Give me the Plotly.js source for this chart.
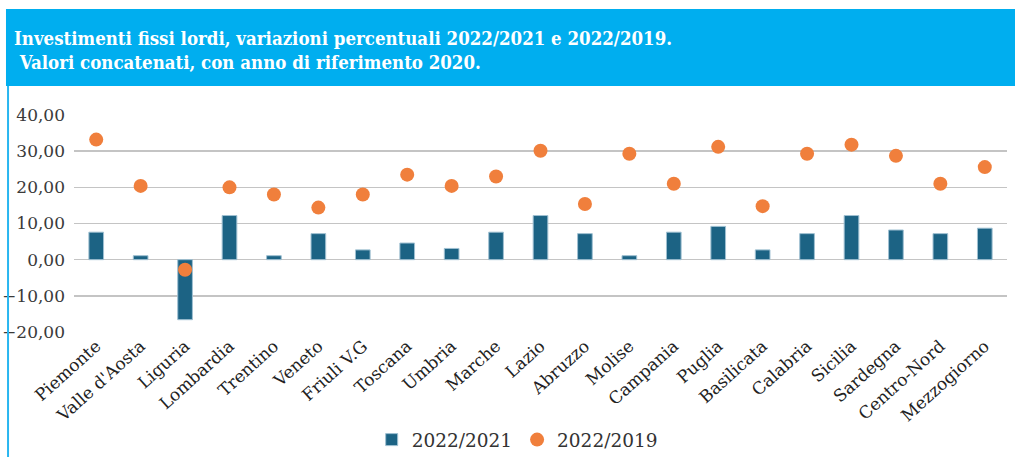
<!DOCTYPE html>
<html><head><meta charset="utf-8">
<script src="https://cdn.plot.ly/plotly-3.0.1.min.js"></script>
<style>html,body{margin:0;padding:0;background:#fff}#chart{width:1015px;height:457px}</style>
</head><body><div id="chart"></div>
<script>
const categories = ["Piemonte","Valle d'Aosta","Liguria","Lombardia","Trentino","Veneto","Friuli V.G","Toscana","Umbria","Marche","Lazio","Abruzzo","Molise","Campania","Puglia","Basilicata","Calabria","Sicilia","Sardegna","Centro-Nord","Mezzogiorno"];
const var2022_2021 = [7.6,1.1,-16.6,12.2,1.1,7.2,2.7,4.6,3.1,7.6,12.2,7.2,1.1,7.6,9.2,2.7,7.2,12.2,8.2,7.2,8.7];
const var2022_2019 = [33.2,20.4,-2.8,20.0,18.0,14.4,18.0,23.5,20.4,23.0,30.1,15.4,29.3,21.0,31.2,14.8,29.3,31.8,28.7,21.0,25.6];
const yTicks = [-20,-10,0,10,20,30,40];
const titleLines = ["Investimenti fissi lordi, variazioni percentuali 2022/2021 e 2022/2019.", " Valori concatenati, con anno di riferimento 2020."];

const condensedSerif = "'DejaVu Serif Condensed', 'DejaVu Sans Condensed', serif";
const serif = "'DejaVu Serif', serif";

const traces = [
  {type:'bar', name:'2022/2021', x:categories, y:var2022_2021, width:0.33,
   marker:{color:'#1C6384', line:{color:'#9fc0d2', width:1}}},
  {type:'scatter', mode:'markers', name:'2022/2019', x:categories, y:var2022_2019,
   marker:{color:'#F07F3C', size:14, symbol:'circle'}}
];
const layout = {
  width:1015, height:457,
  margin:{l:74, r:8, t:115, b:125},
  paper_bgcolor:'#fff', plot_bgcolor:'#fff',
  separators:',.',
  showlegend:true,
  legend:{orientation:'h', xref:'paper', x:0.475, xanchor:'center', yref:'container', y:0.037, yanchor:'middle',
          font:{family:serif, size:18.5, color:'#333'}, itemwidth:30, traceorder:'normal'},
  xaxis:{type:'category', range:[-0.5, 20.5], tickangle:-42, showgrid:false, zeroline:false, showline:false, ticks:'',
         tickfont:{family:serif, size:17, color:'#222'}, automargin:false},
  yaxis:{range:[-20,40], tickvals:yTicks, tickformat:'.2f', showgrid:true, gridcolor:'#c4c4c4', gridwidth:1.5,
         zeroline:true, zerolinecolor:'#c4c4c4', zerolinewidth:1.5, showline:false, ticks:'',
         tickfont:{family:serif, size:17, color:'#3a3a3a'}, ticklabelstandoff:8, automargin:false},
  shapes:[
    {type:'rect', xref:'paper', yref:'paper', x0:-0.0729, x1:1.0086, y0:1.1336, y1:1.4885,
     fillcolor:'#00AEEF', line:{width:0}, layer:'below'},
    {type:'line', xref:'paper', yref:'paper', x0:-0.0707, x1:-0.0707, y0:1.1336, y1:-0.6,
     line:{color:'#29B6F0', width:2}}
  ],
  annotations:[
    {xref:'paper', yref:'paper', x:-0.066, y:1.412, xanchor:'left', yanchor:'top', align:'left',
     showarrow:false, text:titleLines.map(s => '<b>'+s+'</b>').join('<br>'),
     font:{family:condensedSerif, size:18.5, color:'#fff'}}
  ]
};
Plotly.newPlot('chart', traces, layout, {displayModeBar:false, staticPlot:true});
</script></body></html>
